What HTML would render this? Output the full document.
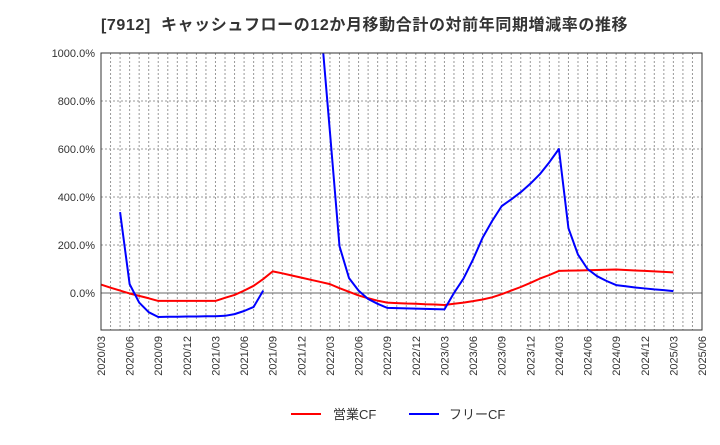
<!DOCTYPE html>
<html><head><meta charset="utf-8"><style>
body{margin:0;background:#fff;font-family:"Liberation Sans","Noto Sans CJK JP",sans-serif;}
</style></head><body>
<svg width="720" height="440" xmlns="http://www.w3.org/2000/svg" id="svg" font-family="Liberation Sans, Noto Sans CJK JP, sans-serif">
<text x="101" y="30" font-size="16" letter-spacing="0.6" font-weight="bold" fill="#333" xml:space="preserve">[7912]  キャッシュフローの12か月移動合計の対前年同期増減率の推移</text>
<defs><clipPath id="pc"><rect x="101" y="53" width="601" height="277"/></clipPath></defs>
<g id="grid"></g><g id="series" clip-path="url(#pc)"></g><g id="axes"></g>
<g>
<line x1="291" y1="414" x2="321" y2="414" stroke="#f00" stroke-width="2"/>
<text x="333" y="419" font-size="13" fill="#333">営業CF</text>
<line x1="409" y1="414" x2="439" y2="414" stroke="#00f" stroke-width="2"/>
<text x="449" y="419" font-size="13" fill="#333">フリーCF</text>
</g>
</svg>
<script>
const xLabels=["2020/03","2020/06","2020/09","2020/12","2021/03","2021/06","2021/09","2021/12","2022/03","2022/06","2022/09","2022/12","2023/03","2023/06","2023/09","2023/12","2024/03","2024/06","2024/09","2024/12","2025/03","2025/06"];
const yTicks=[0,200,400,600,800,1000];
const operatingCF=[35,22,10,-2,-12,-22,-33,-33,-33,-33,-33,-33,-33,-20,-8,10,30,58,90,82,73,64,55,46,37,20,5,-10,-22,-32,-40,-42,-44,-45,-47,-48,-50,-45,-40,-34,-27,-18,-5,10,25,42,60,75,92,93,94,95,96,97,98,96,94,92,90,88,86];
const freeCF=[null,null,337,37,-40,-80,-100,-99,-99,-98,-98,-97,-97,-95,-88,-75,-58,10,null,null,null,null,null,1140,670,195,62,10,-25,-45,-62,-63,-64,-65,-66,-67,-68,0,60,140,230,300,362,390,420,455,495,545,600,270,160,100,70,50,33,28,23,19,15,12,8];
const NS="http://www.w3.org/2000/svg";
const X0=101,X1=702,Y0=53,Y1=330,NM=63;
const xs=i=>X0+(X1-X0)*i/NM;
const ys=v=>293-v*0.24;
function mk(t,a,p){const e=document.createElementNS(NS,t);for(const k in a)e.setAttribute(k,a[k]);p.appendChild(e);return e;}
const grid=document.getElementById('grid'),axes=document.getElementById('axes'),ser=document.getElementById('series');
for(let m=1;m<NM;m++){const l=mk('line',{x1:xs(m),x2:xs(m),y1:Y0,y2:Y1,stroke:'#999','stroke-dasharray':'2,2','stroke-width':1},grid);

}
yTicks.forEach(v=>{const y=ys(v);
const l=mk('line',{x1:X0,x2:X1,y1:y,y2:y,stroke:v===0?'#666':'#999','stroke-dasharray':v===0?'':'2,2','stroke-width':1},grid);


const t=mk('text',{x:95,y:y+4,'text-anchor':'end','font-size':11,fill:'#333'},axes);t.textContent=v.toFixed(1)+'%';

});
xLabels.forEach((s,i)=>{const x=xs(i*3);
const t=mk('text',{x:0,y:0,transform:`translate(${x+4},336) rotate(-90)`,'text-anchor':'end','font-size':11,fill:'#333'},axes);t.textContent=s;

});
const b=mk('rect',{x:X0,y:Y0,width:X1-X0,height:Y1-Y0,fill:'none',stroke:'#333','stroke-width':1},axes);


function draw(arr,col,name){let segs=[],cur=[];arr.forEach((v,i)=>{if(v===null){if(cur.length)segs.push(cur);cur=[];}else cur.push(xs(i)+','+ys(v));});if(cur.length)segs.push(cur);
segs.forEach(s=>{const p=mk('polyline',{points:s.join(' '),fill:'none',stroke:col,'stroke-width':2,'stroke-linejoin':'round'},ser);

});}
draw(operatingCF,'#f00','operating-cf-line');
draw(freeCF,'#00f','free-cf-line');
</script>
</body></html>
